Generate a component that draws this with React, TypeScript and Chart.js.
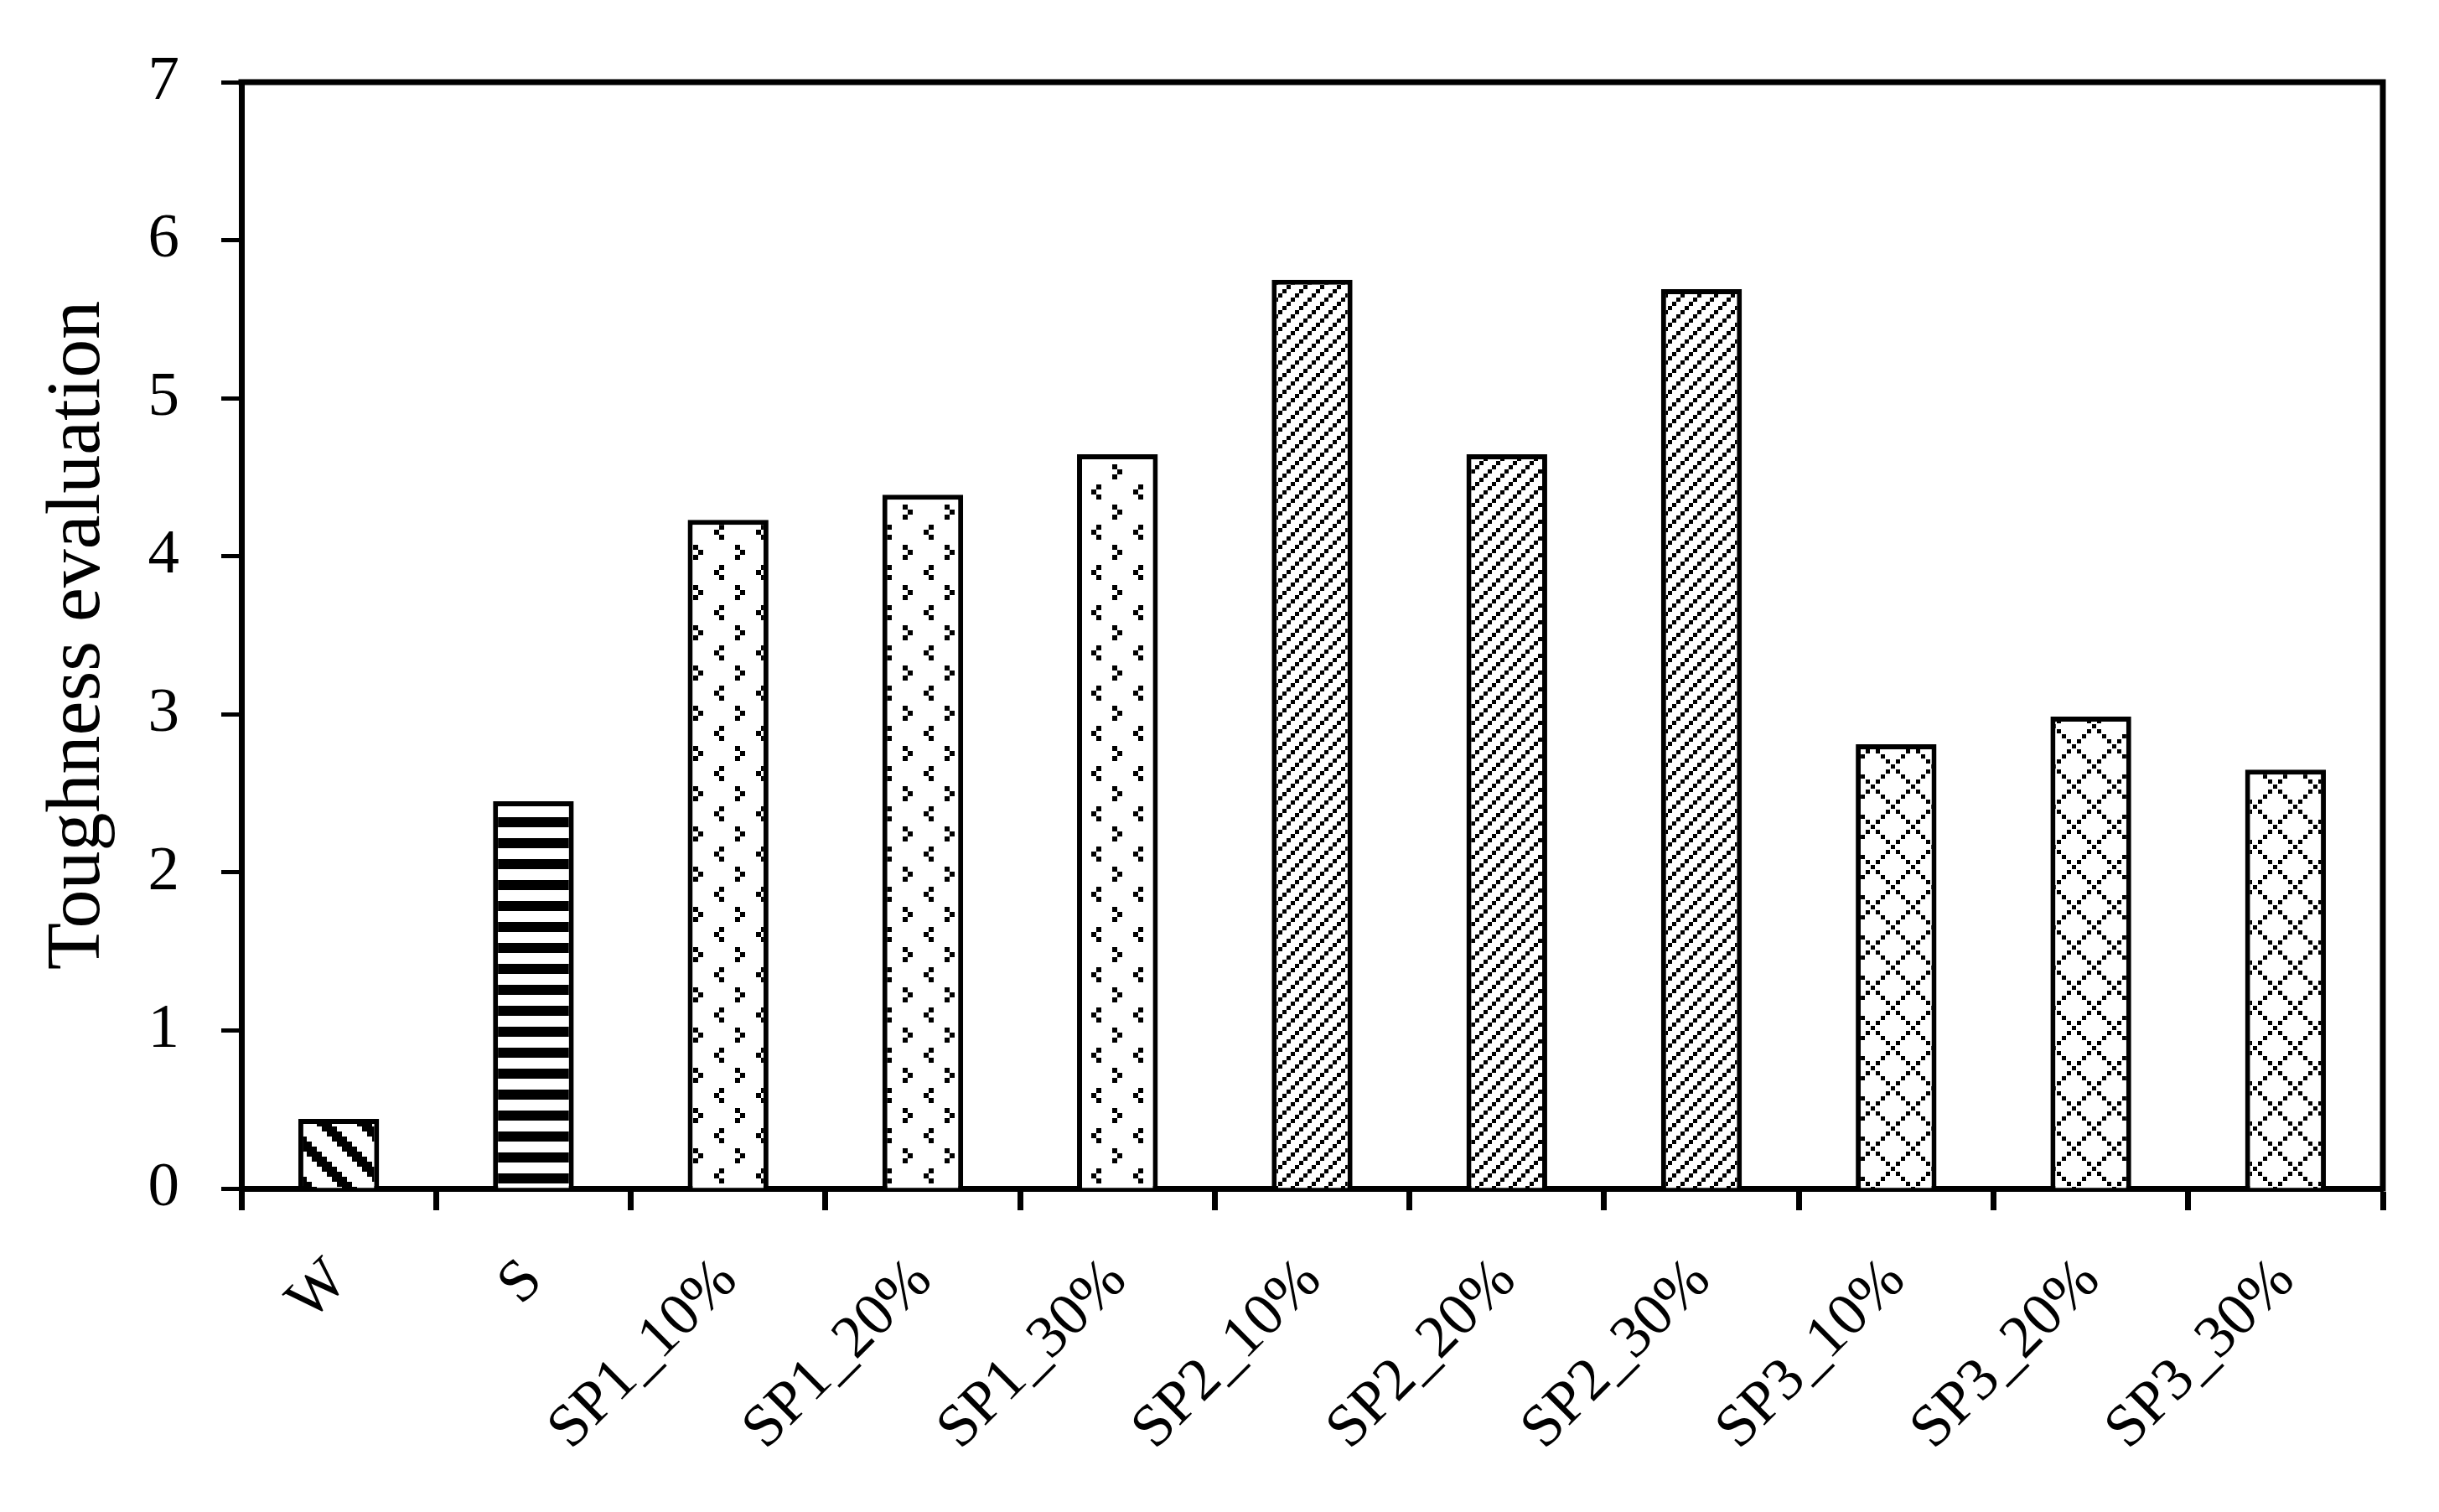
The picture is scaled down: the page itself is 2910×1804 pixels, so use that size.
import React, { useEffect, useRef } from "react";
import { Chart, registerables } from "chart.js";

Chart.register(...registerables);

const categories = [
  "W",
  "S",
  "SP1_10%",
  "SP1_20%",
  "SP1_30%",
  "SP2_10%",
  "SP2_20%",
  "SP2_30%",
  "SP3_10%",
  "SP3_20%",
  "SP3_30%",
];
const toughness = [0.44, 2.45, 4.23, 4.39, 4.645, 5.75, 4.645, 5.69, 2.81, 2.985, 2.65];
const patternKinds = ["wide", "horiz", "confetti", "confetti", "confetti", "diag", "diag", "diag", "lattice", "lattice", "lattice"];
const yTickValues = [0, 1, 2, 3, 4, 5, 6, 7];
const yTitle = "Toughness evaluation";

const FONT = "'Liberation Serif', 'Times New Roman', serif";

function makeTile(w: number, h: number, draw: (g: CanvasRenderingContext2D) => void) {
  const c = document.createElement("canvas");
  c.width = w;
  c.height = h;
  const g = c.getContext("2d")!;
  g.fillStyle = "#fff";
  g.fillRect(0, 0, w, h);
  g.fillStyle = "#000";
  draw(g);
  return c;
}

function buildPatterns(ctx: CanvasRenderingContext2D): Record<string, CanvasPattern> {
  const wide = makeTile(48, 48, (g) => {
    for (let r = 0; r < 8; r++) {
      for (let c = 0; c < 8; c++) {
        if ((c - r + 16) % 8 < 3) g.fillRect(c * 6, r * 6, 6, 6);
      }
    }
  });
  const horiz = makeTile(8, 25, (g) => {
    g.fillRect(0, 0, 8, 12);
  });
  const confetti = makeTile(50, 48, (g) => {
    const x0 = 2, y0 = 2;
    g.fillRect(x0 + 6, y0, 6, 6);
    g.fillRect(x0, y0 + 6, 6, 6);
    g.fillRect(x0 + 6, y0 + 12, 6, 6);
    const x1 = x0 + 25, y1 = y0 + 24;
    g.fillRect(x1, y1, 6, 6);
    g.fillRect(x1 + 6, y1 + 6, 6, 6);
    g.fillRect(x1, y1 + 12, 6, 6);
  });
  const diag = makeTile(20, 20, (g) => {
    g.fillRect(0, 15, 5, 5);
    g.fillRect(5, 10, 5, 5);
    g.fillRect(10, 5, 5, 5);
    g.fillRect(15, 0, 5, 5);
  });
  const lattice = makeTile(48, 48, (g) => {
    for (let k = 0; k < 8; k++) {
      g.fillRect(6 * k, 6 * k, 5, 5);
      g.fillRect(6 * k, (48 - 6 * k) % 48, 5, 5);
    }
  });
  return {
    wide: ctx.createPattern(wide, "repeat")!,
    horiz: ctx.createPattern(horiz, "repeat")!,
    confetti: ctx.createPattern(confetti, "repeat")!,
    diag: ctx.createPattern(diag, "repeat")!,
    lattice: ctx.createPattern(lattice, "repeat")!,
  };
}

const framePlugin = {
  id: "frame",
  afterDraw(chart: any) {
    const { ctx, chartArea } = chart;
    const { left, right, top, bottom } = chartArea;
    ctx.save();
    ctx.strokeStyle = "#000";
    ctx.lineWidth = 7;
    ctx.lineCap = "square";
    ctx.beginPath();
    ctx.moveTo(left, top);
    ctx.lineTo(right, top);
    ctx.lineTo(right, bottom);
    ctx.stroke();
    ctx.restore();
  },
};

export default function App() {
  const canvasRef = useRef<HTMLCanvasElement | null>(null);

  useEffect(() => {
    const canvas = canvasRef.current;
    if (!canvas) return;
    const ctx = canvas.getContext("2d")!;
    const pats = buildPatterns(ctx);

    const chart = new Chart(canvas, {
      type: "bar",
      data: {
        labels: categories,
        datasets: [
          {
            data: toughness,
            backgroundColor: patternKinds.map((k) => pats[k]),
            borderColor: "#000",
            borderWidth: 6,
            borderSkipped: "start",
            barPercentage: 0.415,
            categoryPercentage: 1,
          },
        ],
      },
      options: {
        animation: false,
        responsive: false,
        devicePixelRatio: 1,
        layout: { padding: { left: 0, top: 98, right: 67, bottom: 0 } },
        plugins: {
          legend: { display: false },
          tooltip: { enabled: false },
        },
        scales: {
          x: {
            z: 1,
            grid: {
              drawOnChartArea: false,
              drawTicks: true,
              tickLength: 26,
              tickWidth: 7,
              tickColor: "#000",
              offset: true,
            },
            border: { display: true, color: "#000", width: 7 },
            ticks: {
              autoSkip: false,
              maxRotation: 45,
              minRotation: 45,
              padding: 42,
              color: "#000",
              font: { family: FONT, size: 72 },
            },
            afterFit: (scale: any) => {
              scale.height = 386;
            },
          },
          y: {
            z: 1,
            min: 0,
            max: 7,
            afterBuildTicks: (scale: any) => {
              scale.ticks = yTickValues.map((v) => ({ value: v }));
            },
            grid: {
              drawOnChartArea: false,
              drawTicks: true,
              tickLength: 24,
              tickWidth: 5,
              tickColor: "#000",
            },
            border: { display: true, color: "#000", width: 7 },
            ticks: {
              padding: 50,
              color: "#000",
              font: { family: FONT, size: 75 },
            },
            title: {
              display: true,
              text: yTitle,
              color: "#000",
              padding: { top: 39, bottom: 0 },
              font: { family: FONT, size: 92, weight: "normal" },
            },
            afterFit: (scale: any) => {
              scale.width = 288;
            },
          },
        },
      },
      plugins: [framePlugin],
    });

    return () => {
      chart.destroy();
    };
  }, []);

  return (
    <div
      style={{
        position: "fixed",
        left: 0,
        top: 0,
        width: 2910,
        height: 1804,
        background: "#fff",
      }}
    >
      <canvas ref={canvasRef} width={2910} height={1804} style={{ width: 2910, height: 1804, display: "block" }} />
    </div>
  );
}
